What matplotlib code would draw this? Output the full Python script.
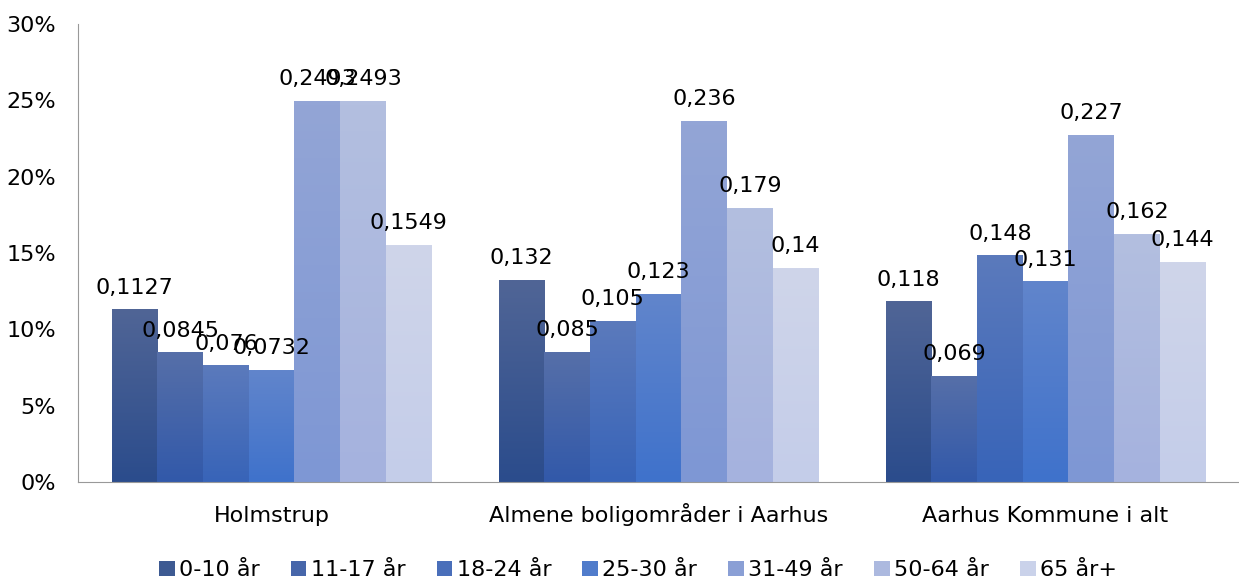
import numpy as np
import matplotlib.pyplot as plt
from matplotlib.colors import LinearSegmentedColormap
from matplotlib.patches import Patch
from matplotlib.ticker import PercentFormatter

categories = ["Holmstrup", "Almene boligområder i Aarhus", "Aarhus Kommune i alt"]
series = ["0-10 år", "11-17 år", "18-24 år", "25-30 år", "31-49 år", "50-64 år", "65 år+"]
values = [
    [0.1127, 0.132, 0.118],
    [0.0845, 0.085, 0.069],
    [0.076, 0.105, 0.148],
    [0.0732, 0.123, 0.131],
    [0.2493, 0.236, 0.227],
    [0.2493, 0.179, 0.162],
    [0.1549, 0.14, 0.144],
]
labels = [
    ["0,1127", "0,132", "0,118"],
    ["0,0845", "0,085", "0,069"],
    ["0,076", "0,105", "0,148"],
    ["0,0732", "0,123", "0,131"],
    ["0,2493", "0,236", "0,227"],
    ["0,2493", "0,179", "0,162"],
    ["0,1549", "0,14", "0,144"],
]

# gradient colours (top, bottom) per series
grad = [
    ("#506596", "#2b4c8c"),
    ("#566fa8", "#3259aa"),
    ("#5b7abc", "#3864b8"),
    ("#6185cb", "#3f72cc"),
    ("#93a5d6", "#7e97d4"),
    ("#b3bfe0", "#a5b2de"),
    ("#cfd5ea", "#c4cde9"),
]
legend_cols = ["#3d5a92", "#4766aa", "#4a6fba", "#507ccb", "#8a9fd5", "#acb9df", "#cad2ea"]

plt.rcParams['font.family'] = ['DejaVu Sans']
fig = plt.figure(figsize=(12.39, 5.8), dpi=100)
ax = fig.add_axes([0.063, 0.169, 0.937, 0.79])

n = len(series)
group_w = 0.826
bw = group_w / n
x = np.arange(len(categories))

for i in range(n):
    cmap = LinearSegmentedColormap.from_list(f"g{i}", [grad[i][1], grad[i][0]])
    grad_img = np.linspace(0, 1, 100).reshape(-1, 1)
    for j, cx in enumerate(x):
        left = cx - group_w / 2 + i * bw
        h = values[i][j]
        ax.imshow(grad_img, extent=[left, left + bw, 0, h], origin="lower",
                  cmap=cmap, aspect="auto", zorder=2)
        ax.text(left + bw / 2, h + 0.008, labels[i][j], ha="center", va="bottom",
                fontsize=16, zorder=3)

ax.set_xlim(-0.5, 2.5)
ax.set_ylim(0, 0.30)
ax.set_xticks(x)
ax.set_xticklabels(categories, fontsize=16)
for t in ax.get_xticklabels():
    t.set_verticalalignment("baseline")
ax.set_yticks(np.arange(0, 0.31, 0.05))
ax.yaxis.set_major_formatter(PercentFormatter(1.0, decimals=0))
ax.tick_params(axis="y", labelsize=16, length=0, pad=16)
ax.tick_params(axis="x", length=0, pad=29)
for s in ["top", "right"]:
    ax.spines[s].set_visible(False)
ax.spines["left"].set_color("#999999")
ax.spines["bottom"].set_color("#999999")

handles = [Patch(facecolor=c, edgecolor="none") for c in legend_cols]
fig.legend(handles, series, loc="lower center", bbox_to_anchor=(0.515, -0.035), ncol=n,
           frameon=False, fontsize=16, handlelength=0.7, handleheight=0.7,
           handletextpad=0.2, columnspacing=1.4)

fig.savefig("out.png", dpi=100)
